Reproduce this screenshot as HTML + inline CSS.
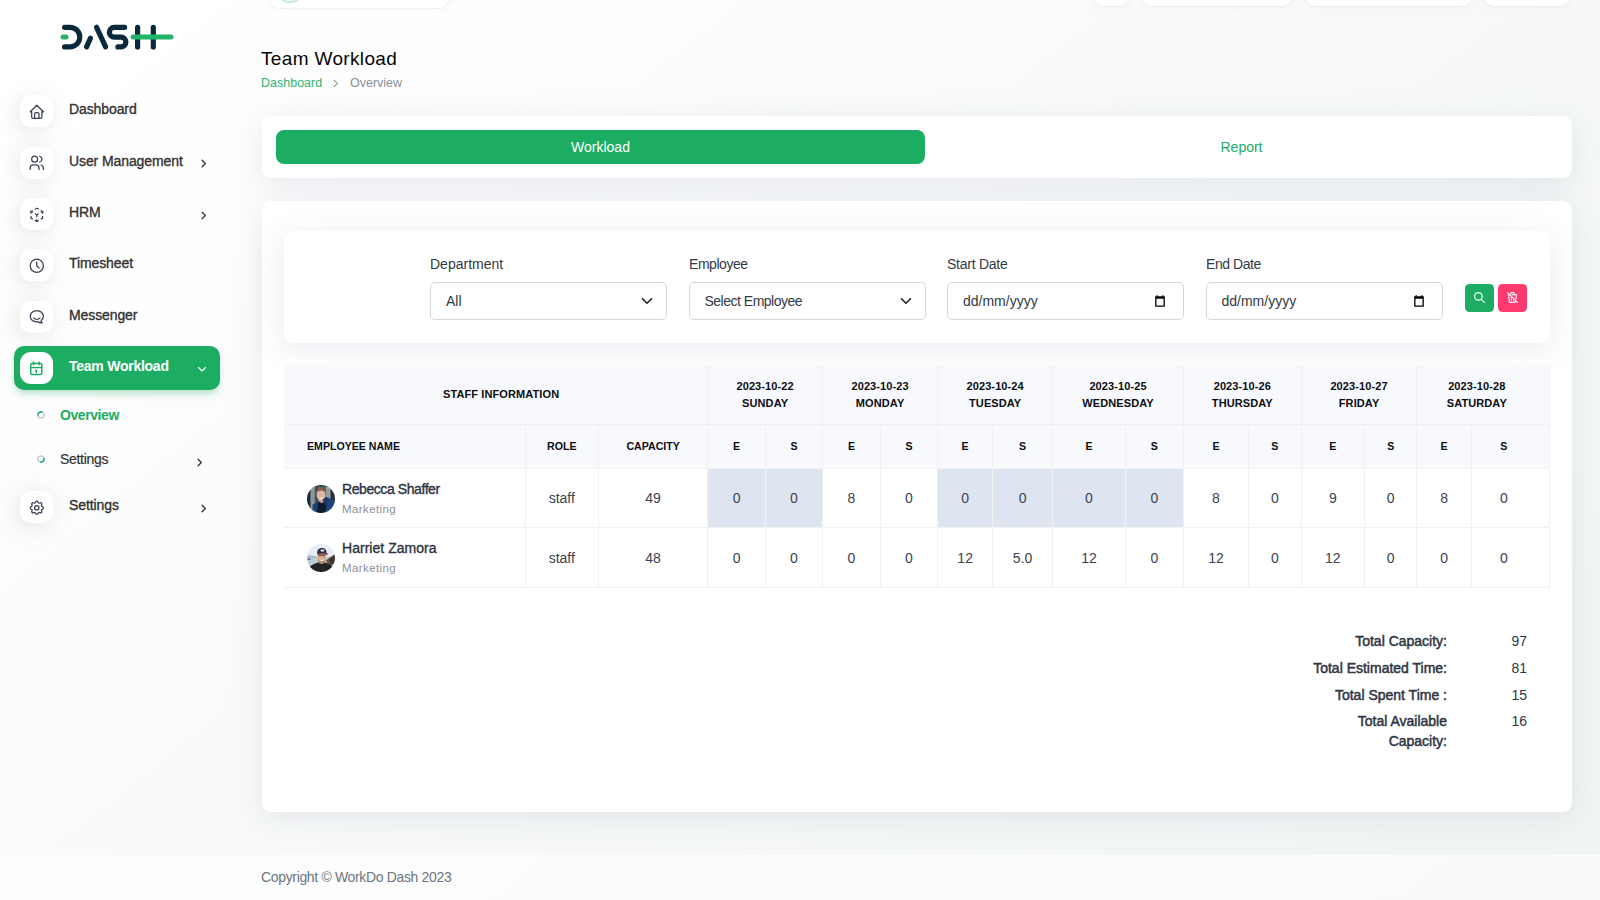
<!DOCTYPE html>
<html lang="en">
<head>
<meta charset="utf-8">
<title>Team Workload</title>
<style>
*{box-sizing:border-box;margin:0;padding:0}
html,body{width:1600px;height:900px;overflow:hidden}
body{font-family:"Liberation Sans",sans-serif;font-size:14px;color:#293240;position:relative;
background:linear-gradient(141.55deg,rgba(240,244,243,0) 3.46%,#f0f4f3 99.86%),#ffffff;}
.abs{position:absolute}
svg.ti{fill:none;stroke:currentColor;stroke-width:1.7;stroke-linecap:round;stroke-linejoin:round;display:block}

/* top clipped header pills */
.pill{position:absolute;top:-40px;height:46px;background:#fff;border-radius:12px;box-shadow:0 0 0 1px rgba(225,230,230,.45),0 2px 6px rgba(182,186,203,.10)}

/* sidebar */
.nav-item{position:absolute;left:14px;width:206px;height:44px}
.nav-item .ibox{position:absolute;left:6.3px;top:6px;width:32.4px;height:32.4px;border-radius:11px;background:#fff;
 box-shadow:-3px 4px 23px rgba(0,0,0,.1);color:#3a4254}
.nav-item .ibox svg{position:absolute;left:7.4px;top:7.5px;width:17.6px;height:17.6px}
.nav-item .txt{position:absolute;left:55px;top:10px;line-height:20px;font-size:14px;color:#333;white-space:nowrap;-webkit-text-stroke:.35px #333;letter-spacing:-.1px}
.nav-item .arr{position:absolute;left:183.7px;top:17.8px;width:11px;height:11px;color:#333}
.nav-item.active{background:#1cad63;border-radius:10px;box-shadow:0 5px 7px -1px rgba(28,173,99,.3)}
.nav-item.active .ibox{color:#1cad63;box-shadow:none}
.nav-item.active .txt{color:#fff;font-weight:700;-webkit-text-stroke:0;letter-spacing:-.25px}
.sub{position:absolute;left:60px;font-size:14px;line-height:20px;white-space:nowrap}
.ring{position:absolute;left:37px;width:7.4px;height:7.4px;border-radius:50%;border:1.6px solid #c9cbd6}

/* cards */
.card{position:absolute;background:#fff;border-radius:9px;box-shadow:0 6px 30px rgba(182,186,203,.3)}
.lbl{position:absolute;top:254.6px;font-size:14px;line-height:18px;color:#333a45;white-space:nowrap}
.inp{position:absolute;top:282.3px;width:237px;height:38px;border:1px solid #d2d7dd;border-radius:5px;background:#fff;
 font-size:14px;line-height:36px;padding-left:15px;color:#333a45;white-space:nowrap}
.inp svg{position:absolute}

/* table */
table{position:absolute;left:284px;top:365px;width:1266px;border-collapse:collapse;table-layout:fixed}
th,td{border:1px solid #f1f1f1;text-align:center;vertical-align:middle;padding:0}
thead th{background:#f8f9fd;font-size:11px;font-weight:700;color:#0b0d12;line-height:17px;letter-spacing:.1px;text-transform:uppercase}
thead tr.r1 th{height:59.5px;border-top:0;padding-top:.5px}
thead tr.r2 th{height:44px;font-size:10.6px;letter-spacing:0}
tbody td{height:59px;font-size:14px;color:#3b4250;background:#fff}
tbody td.hl{background:#dfe5f0}
tbody tr:last-child td{height:60px}
th:first-child,td:first-child{border-left:0}
td.emp{text-align:left;position:relative}
.av{position:absolute;left:23.3px;top:15.6px;width:28px;height:28px;border-radius:50%;overflow:hidden}
.nm{position:absolute;left:58px;top:9.5px;font-size:14px;line-height:20px;color:#2b3240;white-space:nowrap;-webkit-text-stroke:.35px #2b3240}
.dp{position:absolute;left:58px;top:32.3px;font-size:11.5px;line-height:16px;color:#8b8f98;white-space:nowrap;letter-spacing:.4px}

.tot{position:absolute;right:153px;text-align:right;font-size:14px;line-height:19.3px;color:#2f3644;white-space:nowrap;-webkit-text-stroke:.5px #2f3644}
.tov{position:absolute;left:1500px;width:27px;text-align:right;font-size:14px;line-height:19.5px;color:#2f3644}
.footer{position:absolute;left:0;top:855px;width:1600px;height:45px;background:rgba(255,255,255,.6)}
.footer span{position:absolute;left:261px;top:12px;font-size:14px;line-height:20px;color:#6f7580;white-space:nowrap;letter-spacing:-.34px}
</style>
</head>
<body>
<!-- clipped header pills -->
<div class="pill" style="left:268.5px;width:181px;top:-38.5px"><div class="abs" style="left:9px;top:5px;width:24px;height:36px;border-radius:10px;border:2px solid #c8ecd9;background:#eef5f1"></div></div>
<div class="pill" style="left:1092px;width:38px;top:-40.2px"></div>
<div class="pill" style="left:1140px;width:153px;top:-40.2px"></div>
<div class="pill" style="left:1304px;width:169px;top:-40.2px"></div>
<div class="pill" style="left:1483px;width:88px;top:-40.2px"></div>

<!-- logo -->
<svg class="abs" style="left:55px;top:20px" width="125" height="34" viewBox="55 20 125 34" fill="none" stroke-linecap="round" stroke-linejoin="round">
  <g stroke="#0a2a3c" stroke-width="5.2">
    <path d="M64.6 27.3 H70 A9.8 9.8 0 0 1 70 46.9 H64.6"/>
    <path d="M96.6 27.3 L105.6 46.9"/>
    <path d="M90.4 38.3 L86.6 46.9"/>
    <path d="M124.6 27.3 H114.25 A4.9 4.9 0 0 0 114.25 37.1 H121 A4.9 4.9 0 0 1 121 46.9 H117.9"/>
    <path d="M137.6 27.3 V46.9"/>
    <path d="M153.3 27.3 V46.9"/>
  </g>
  <g stroke="#22b567" stroke-width="5">
    <path d="M63 36.9 H66"/>
    <path d="M133 36.9 H171"/>
  </g>
</svg>

<!-- sidebar -->
<div class="nav-item" style="top:89px"><div class="ibox"><svg class="ti" viewBox="0 0 24 24"><path d="M5 12H3l9-9 9 9h-2"/><path d="M5 12v7a2 2 0 0 0 2 2h10a2 2 0 0 0 2-2v-7"/><path d="M9 21v-6a2 2 0 0 1 2-2h2a2 2 0 0 1 2 2v6"/></svg></div><div class="txt">Dashboard</div></div>

<div class="nav-item" style="top:140.5px"><div class="ibox"><svg class="ti" viewBox="0 0 24 24"><circle cx="9" cy="7" r="4"/><path d="M3 21v-2a4 4 0 0 1 4-4h4a4 4 0 0 1 4 4v2"/><path d="M16 3.13a4 4 0 0 1 0 7.75"/><path d="M21 21v-2a4 4 0 0 0-3-3.85"/></svg></div><div class="txt">User Management</div><svg class="ti arr" viewBox="0 0 24 24" style="stroke-width:2.8"><path d="M9 5l7 7-7 7"/></svg></div>

<div class="nav-item" style="top:192px"><div class="ibox"><svg class="ti" viewBox="0 0 24 24"><path d="M6 17.6l-2-1.1V14"/><path d="M4 10V7.5l2-1.1"/><path d="M10 4.1L12 3l2 1.1"/><path d="M18 6.4l2 1.1V10"/><path d="M20 14v2.5l-2 1.12"/><path d="M14 19.9L12 21l-2-1.1"/><path d="M12 12l2-1.1"/><path d="M18 8.6l2-1.1"/><path d="M12 12v2.5"/><path d="M12 18.5V21"/><path d="M12 12l-2-1.12"/><path d="M6 8.6L4 7.5"/></svg></div><div class="txt">HRM</div><svg class="ti arr" viewBox="0 0 24 24" style="stroke-width:2.8"><path d="M9 5l7 7-7 7"/></svg></div>

<div class="nav-item" style="top:243px"><div class="ibox"><svg class="ti" viewBox="0 0 24 24"><circle cx="12" cy="12" r="9"/><path d="M12 7v5l3 3"/></svg></div><div class="txt">Timesheet</div></div>

<div class="nav-item" style="top:294.5px"><div class="ibox"><svg class="ti" viewBox="0 0 24 24"><path d="M17.802 17.292s.077-.055.2-.149c1.843-1.425 3-3.49 3-5.789 0-4.286-4.03-7.764-9-7.764s-9 3.478-9 7.764c0 4.288 4.03 7.646 9 7.646.424 0 1.12-.028 2.088-.084 1.262.82 3.104 1.493 4.716 1.493.499 0 .734-.41.414-.828-.486-.596-1.156-1.551-1.416-2.29z"/><path d="M7.5 13.5c2.5 2.5 6.5 2.5 9 0"/></svg></div><div class="txt">Messenger</div></div>

<div class="nav-item active" style="top:346px"><div class="ibox"><svg class="ti" viewBox="0 0 24 24" style="stroke-width:2.1;width:16.600px;height:16.600px;left:8px;top:7.800px"><rect x="4" y="5" width="16" height="16" rx="2"/><path d="M16 3v4"/><path d="M8 3v4"/><path d="M4 11h16"/><path d="M11 15h1"/><path d="M12 15v3"/></svg></div><div class="txt">Team Workload</div><svg class="ti arr" viewBox="0 0 24 24" style="stroke-width:2.2;color:#fff;left:182px;top:16.5px;width:12px;height:12px"><path d="M5 9l7 7 7-7"/></svg></div>

<svg class="abs" viewBox="0 0 10 10" style="left:35.5px;top:410px;width:10px;height:10px" fill="none" stroke-width="1.45"><circle cx="5" cy="5" r="3.050" stroke="#c8cbdb"/><path d="M1.95 5.11A3.05 3.05 0 0 1 5.79 2.05" stroke="#1cad63" stroke-linecap="round"/></svg>
<div class="sub" style="top:405px;color:#1cad63;font-weight:700;letter-spacing:-.42px">Overview</div>
<svg class="abs" viewBox="0 0 10 10" style="left:35.6px;top:454.1px;width:10px;height:10px" fill="none" stroke-width="1.45"><circle cx="5" cy="5" r="3.050" stroke="#c8cbdb"/><path d="M8.02 4.58A3.05 3.05 0 0 1 4.47 8.00" stroke="#1cad63" stroke-linecap="round"/></svg>
<div class="sub" style="top:449px;color:#333;-webkit-text-stroke:.2px #333;letter-spacing:-.3px">Settings</div>
<svg class="ti abs" viewBox="0 0 24 24" style="left:193.6px;top:456.8px;width:11px;height:11px;stroke-width:2.8;color:#333"><path d="M9 5l7 7-7 7"/></svg>

<div class="nav-item" style="top:485px"><div class="ibox"><svg class="ti" viewBox="0 0 24 24"><path d="M10.325 4.317c.426-1.756 2.924-1.756 3.35 0a1.724 1.724 0 0 0 2.573 1.066c1.543-.94 3.31.826 2.37 2.37a1.724 1.724 0 0 0 1.065 2.572c1.756.426 1.756 2.924 0 3.35a1.724 1.724 0 0 0-1.066 2.573c.94 1.543-.826 3.31-2.37 2.37a1.724 1.724 0 0 0-2.572 1.065c-.426 1.756-2.924 1.756-3.35 0a1.724 1.724 0 0 0-2.573-1.066c-1.543.94-3.31-.826-2.37-2.37a1.724 1.724 0 0 0-1.065-2.572c-1.756-.426-1.756-2.924 0-3.35a1.724 1.724 0 0 0 1.066-2.573c-.94-1.543.826-3.31 2.37-2.37 1 .608 2.296.07 2.572-1.065z"/><circle cx="12" cy="12" r="3"/></svg></div><div class="txt">Settings</div><svg class="ti arr" viewBox="0 0 24 24" style="stroke-width:2.8"><path d="M9 5l7 7-7 7"/></svg></div>
<!-- page header -->
<div class="abs" id="ttl" style="left:261px;top:46.5px;font-size:19px;line-height:24px;color:#060606;white-space:nowrap;letter-spacing:.35px">Team Workload</div>
<div class="abs" id="bc1" style="left:261px;top:75px;font-size:12.5px;line-height:16px;color:#2fb572;white-space:nowrap">Dashboard</div>
<svg class="ti abs" viewBox="0 0 24 24" style="left:330px;top:77.5px;width:11px;height:11px;stroke-width:2.2;color:#7d828c"><path d="M9 5l7 7-7 7"/></svg>
<div class="abs" id="bc2" style="left:350px;top:75px;font-size:12.5px;line-height:16px;color:#8a8f98;white-space:nowrap">Overview</div>

<!-- tabs card -->
<div class="card" style="left:261.7px;top:115.8px;width:1310.8px;height:62.4px"></div>
<div class="abs" style="left:276px;top:130px;width:649px;height:34px;border-radius:8px;background:#1cad63;color:#fff;font-size:14px;line-height:34px;text-align:center">Workload</div>
<div class="abs" style="left:925px;top:130px;width:633px;height:34px;color:#1cad63;font-size:14px;line-height:34px;text-align:center">Report</div>

<!-- main card -->
<div class="card" style="left:261.7px;top:201px;width:1310.8px;height:610.7px"></div>
<!-- filter card -->
<div class="card" style="left:284px;top:231px;width:1266px;height:112px"></div>
<div class="lbl" style="left:430px">Department</div>
<div class="lbl" style="left:689px;letter-spacing:-.45px">Employee</div>
<div class="lbl" style="left:947px;letter-spacing:-.25px">Start Date</div>
<div class="lbl" style="left:1206px;letter-spacing:-.45px">End Date</div>
<div class="inp" style="left:430px">All<svg class="ti" viewBox="0 0 16 16" style="right:13px;top:12px;width:12px;height:12px;stroke-width:2.2;color:#212529"><path d="M2 5l6 6 6-6"/></svg></div>
<div class="inp" style="left:688.5px;letter-spacing:-.5px">Select Employee<svg class="ti" viewBox="0 0 16 16" style="right:13px;top:12px;width:12px;height:12px;stroke-width:2.2;color:#212529"><path d="M2 5l6 6 6-6"/></svg></div>
<div class="inp" style="left:947px">dd/mm/yyyy<svg viewBox="0 0 16 16" style="right:16px;top:11px;width:14px;height:14px" fill="#000"><path d="M4 1.5v1H2.5v12h11v-12H12v-1h-1.5v1h-5v-1zM4 5.5h8V13H4z" fill-rule="evenodd"/></svg></div>
<div class="inp" style="left:1205.5px">dd/mm/yyyy<svg viewBox="0 0 16 16" style="right:16px;top:11px;width:14px;height:14px" fill="#000"><path d="M4 1.5v1H2.5v12h11v-12H12v-1h-1.5v1h-5v-1zM4 5.5h8V13H4z" fill-rule="evenodd"/></svg></div>
<div class="abs" style="left:1465px;top:284px;width:29px;height:28px;border-radius:4.5px;background:#1cad63;color:#fff"><svg class="ti" viewBox="0 0 24 24" style="position:absolute;left:8px;top:7px;width:13px;height:13px;stroke-width:2.2"><circle cx="10" cy="10" r="7"/><path d="M21 21l-6-6"/></svg></div>
<div class="abs" style="left:1498px;top:284px;width:29px;height:28px;border-radius:4.5px;background:#ff3a6e;color:#fff"><svg class="ti" viewBox="0 0 24 24" style="position:absolute;left:8px;top:7px;width:13px;height:13px;stroke-width:2"><path d="M3 3l18 18"/><path d="M4 7h3m4 0h9"/><path d="M10 11v6"/><path d="M14 14v3"/><path d="M5 7l1 12a2 2 0 0 0 2 2h8a2 2 0 0 0 2-2l.077-.923"/><path d="M18.384 14.373L19 7"/><path d="M9 5V4a1 1 0 0 1 1-1h4a1 1 0 0 1 1 1v3"/></svg></div>
<!-- table -->
<table>
<colgroup>
<col style="width:241px"><col style="width:73.5px"><col style="width:109.2px">
<col style="width:57.8px"><col style="width:57px"><col style="width:57.8px"><col style="width:57.4px">
<col style="width:54.9px"><col style="width:60px"><col style="width:72.7px"><col style="width:58.2px">
<col style="width:65px"><col style="width:52.7px"><col style="width:63.3px"><col style="width:52.5px">
<col style="width:54.2px"><col style="width:78.5px">
</colgroup>
<thead>
<tr class="r1"><th colspan="3" style="padding-left:11px">Staff Information</th><th colspan="2">2023-10-22<br>Sunday</th><th colspan="2">2023-10-23<br>Monday</th><th colspan="2">2023-10-24<br>Tuesday</th><th colspan="2">2023-10-25<br>Wednesday</th><th colspan="2">2023-10-26<br>Thursday</th><th colspan="2">2023-10-27<br>Friday</th><th colspan="2" style="padding-right:13px">2023-10-28<br>Saturday</th></tr>
<tr class="r2"><th style="text-align:left;padding-left:23px">Employee Name</th><th>Role</th><th>Capacity</th><th>E</th><th>S</th><th>E</th><th>S</th><th>E</th><th>S</th><th>E</th><th>S</th><th>E</th><th>S</th><th>E</th><th>S</th><th>E</th><th style="padding-right:13px">S</th></tr>
</thead>
<tbody>
<tr><td class="emp"><div class="av"><svg viewBox="0 0 28 28" width="28" height="28"><defs><filter id="b1" x="-10%" y="-10%" width="120%" height="120%"><feGaussianBlur stdDeviation=".55"/></filter></defs><g filter="url(#b1)"><rect x="-2" y="-2" width="32" height="32" fill="#56666a"/><rect x="-2" y="-2" width="5" height="32" fill="#1f2b33"/><rect x="4" y="2" width="3.500" height="22" fill="#8d9a9d"/><rect x="8.500" y="0" width="2" height="20" fill="#3c4a4f"/><rect x="19" y="2" width="4" height="14" fill="#93a0a2"/><rect x="24" y="-2" width="6" height="20" fill="#27333a"/><rect x="4" y="-2" width="20" height="3.500" fill="#2c3b3f"/><path d="M5.300 30L5.600 19.500l5.400-3 6-2 2.500-2.500L27.500 15.500 30 30z" fill="#1d4377"/><path d="M11.200 17l2.300-2.500h4l2.200 6L17 30H9.500z" fill="#111a2c"/><path d="M11.500 13.500h5.500l.8 2.200-3 2.600-3.200-2z" fill="#cf9f8b"/><ellipse cx="14" cy="9.700" rx="4.400" ry="5.600" fill="#dfb7a5"/><path d="M9.300 8.500C9 5 11.500 3 14.300 3.100c2.700.1 4.700 1.900 4.400 5.200-.9-1.900-2.300-2.700-4.500-2.700S10.300 6.500 9.300 8.500z" fill="#86603f"/><path d="M12 12.300c1.300 1.100 3 1.100 4.200-.1-.5 1.400-1.300 2-2.100 2s-1.700-.7-2.100-1.900z" fill="#f3e6e2"/><path d="M15.500 14.500l4.500-2.500 2 3-3.500 6z" fill="#1a3b6b"/></g></svg></div><div class="nm" style="letter-spacing:-.42px">Rebecca Shaffer</div><div class="dp">Marketing</div></td><td>staff</td><td>49</td><td class="hl">0</td><td class="hl">0</td><td>8</td><td>0</td><td class="hl">0</td><td class="hl">0</td><td class="hl">0</td><td class="hl">0</td><td>8</td><td>0</td><td>9</td><td>0</td><td>8</td><td style="padding-right:13px">0</td></tr>
<tr><td class="emp"><div class="av"><svg viewBox="0 0 28 28" width="28" height="28"><defs><filter id="b2" x="-10%" y="-10%" width="120%" height="120%"><feGaussianBlur stdDeviation=".55"/></filter></defs><g filter="url(#b2)"><rect x="-2" y="-2" width="32" height="32" fill="#e7edf3"/><rect x="-2" y="12.500" width="32" height="12" fill="#bccfd9"/><path d="M-2 12.800c3-1.600 6-1.800 11-.6v1.600H-2z" fill="#a6b9c9"/><rect x=".5" y="14.500" width="3" height="1.300" fill="#5d5a55"/><path d="M18.500 16.500l4.500-3 4.700-3.300L30 9v12l-8 .5z" fill="#6a5848"/><path d="M22 15l6-4v8l-5 1z" fill="#3f352d"/><path d="M-1 30c1-5 4-8.500 8-10l4.500-1.700h6l4.500 1.700c3 1.300 5 3.500 6 7v3z" fill="#222429"/><path d="M11.500 15h6v3.600c-1.500 1.700-4.500 1.700-6 0z" fill="#c8936f"/><ellipse cx="14.800" cy="13.600" rx="4.300" ry="5" fill="#dbaa8c"/><path d="M11 15.500c1.300 2.800 6 2.800 7.500-.3-.3 3-1.800 4.500-3.800 4.500s-3.300-1.600-3.700-4.200z" fill="#a97f62"/><path d="M12.800 15.300c1.300.9 2.900.9 4-.1-.4 1.300-1.200 1.800-2 1.800s-1.600-.6-2-1.700z" fill="#f6eeee"/><rect x="11" y="10.400" width="7.600" height="1.500" rx=".7" fill="#7a5148"/><path d="M10.200 9.700C9.800 6 11.800 3.900 14.800 3.900s5 2 4.800 5.300l1.200.6-.3.800c-3-.9-7.300-.9-10.300-.1z" fill="#2b2d4b"/><path d="M10.200 10c3-.9 7.300-.9 10.400.1l.1.800c-3-.7-7-.7-10.300.1z" fill="#a15f4c"/><rect x="13.600" y="5.600" width="3.600" height="1.800" rx=".6" fill="#eef0f6"/></g></svg></div><div class="nm" style="letter-spacing:.03px">Harriet Zamora</div><div class="dp">Marketing</div></td><td>staff</td><td>48</td><td>0</td><td>0</td><td>0</td><td>0</td><td>12</td><td>5.0</td><td>12</td><td>0</td><td>12</td><td>0</td><td>12</td><td>0</td><td>0</td><td style="padding-right:13px">0</td></tr>
</tbody>
</table>

<!-- totals -->
<div class="tot" style="top:632.3px">Total Capacity:</div><div class="tov" style="top:632.3px">97</div>
<div class="tot" style="top:659px">Total Estimated Time:</div><div class="tov" style="top:659px">81</div>
<div class="tot" style="top:685.9px">Total Spent Time :</div><div class="tov" style="top:685.9px">15</div>
<div class="tot" style="top:712.4px">Total Available<br>Capacity:</div><div class="tov" style="top:712.4px">16</div>

<div class="footer"><span>Copyright © WorkDo Dash 2023</span></div>

</body>
</html>
